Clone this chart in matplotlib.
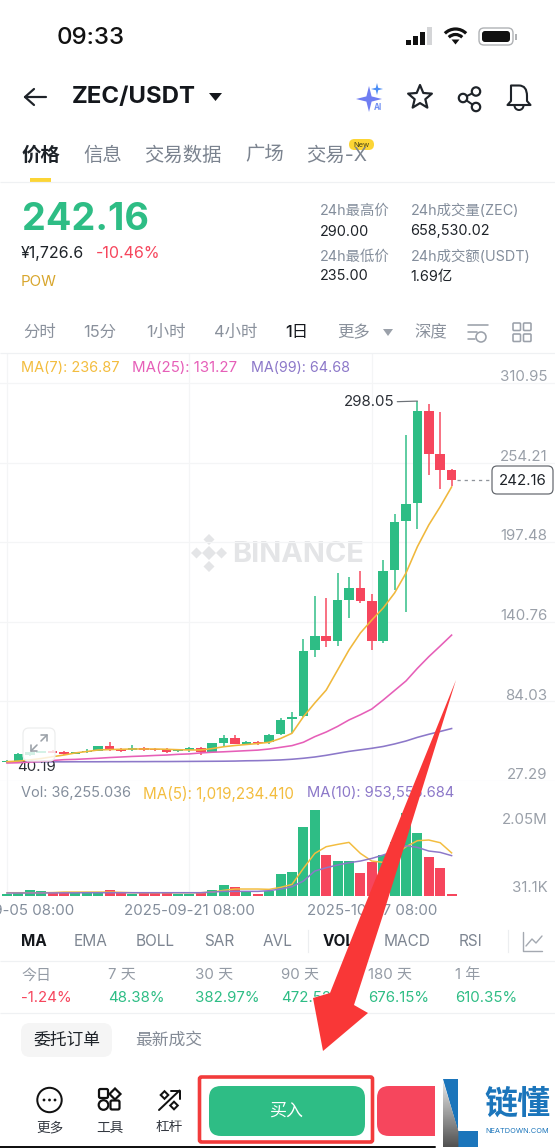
#!/usr/bin/env python3
"""Binance ZEC/USDT daily chart screenshot, redrawn."""
import numpy as np
import matplotlib

matplotlib.use("Agg")
import matplotlib.pyplot as plt
from matplotlib.patches import Arc, Circle, FancyBboxPatch, PathPatch, Polygon, Rectangle
from matplotlib.path import Path
from matplotlib.transforms import blended_transform_factory

plt.rcParams["font.family"] = ["Inter", "Noto Sans CJK SC", "DejaVu Sans"]

W, H = 555, 1148
GREEN = "#2ebd85"
RED = "#f6465d"
GRAY = "#848e9c"
DARK = "#1e2329"
GRID = "#f4f5f6"
YELLOW = "#f3bd3f"
PINK = "#e65fb8"
PURPLE = "#8c78c9"

# daily candles, oldest first
opens = [40.5, 41.3, 45.8, 47.4, 48.7, 47.7, 46.7, 47.8, 48.9, 52.0, 49.9, 49.4, 50.6, 50.3,
         50.1, 48.5, 49.4, 50.6, 48.2, 54.6, 57.9, 53.9, 55.3, 55.3, 60.6, 71.5, 73.6, 120.7,
         130.6, 127.1, 156.5, 164.6, 155.6, 127.1, 177.5, 212.8, 225.6, 291.0, 260.1, 248.95]
highs = [42.0, 47.0, 48.0, 49.0, 49.5, 48.5, 48.3, 49.9, 52.3, 54.9, 51.0, 53.2, 51.5, 50.8,
         50.5, 50.3, 51.5, 51.3, 54.4, 60.3, 60.0, 55.8, 55.8, 60.8, 72.4, 76.5, 128.5, 159.4,
         157.5, 175.8, 172.5, 176.7, 160.6, 185.0, 217.4, 273.9, 298.05, 296.0, 290.0, 249.66]
lows = [40.3, 40.19, 45.4, 47.0, 47.0, 46.0, 46.4, 46.9, 48.5, 48.9, 47.9, 48.9, 49.0, 49.0,
        47.5, 47.9, 48.2, 45.8, 47.7, 51.7, 53.7, 53.6, 52.9, 53.7, 60.0, 61.5, 73.0, 115.9,
        123.0, 123.7, 143.2, 154.4, 120.4, 125.4, 163.4, 147.5, 207.1, 245.4, 235.2, 237.5]
closes = [41.5, 46.5, 47.9, 48.7, 47.2, 46.5, 47.9, 48.9, 52.0, 49.4, 48.9, 50.6, 49.4, 49.4,
          48.2, 49.9, 50.6, 47.9, 54.2, 57.7, 53.9, 55.3, 54.4, 60.0, 71.0, 73.1, 120.0, 130.6,
          127.1, 156.3, 164.6, 155.6, 127.1, 177.0, 212.1, 224.9, 291.0, 260.5, 249.16, 242.16]

ma7 = [41.05, 41.5, 42.3, 43.3, 44.6, 45.8, 47.3, 48.3, 49.4, 49.7, 49.9, 50.1, 50.1, 50.1,
       49.9, 49.6, 49.4, 49.4, 50.4, 51.7, 52.6, 53.3, 54.0, 54.9, 57.6, 61.3, 73.1, 82.9,
       92.1, 106.4, 120.7, 132.8, 142.0, 150.6, 161.3, 175.5, 194.3, 209.8, 222.8, 236.87]
ma25 = [40.1, 40.3, 40.8, 41.3, 41.9, 42.5, 42.7, 43.1, 43.5, 44.0, 44.4, 44.8, 45.1, 45.5,
        45.8, 46.3, 46.6, 47.3, 47.8, 48.1, 48.5, 48.9, 49.3, 50.1, 51.3, 52.5, 54.9, 58.9,
        62.2, 66.2, 70.8, 74.5, 78.6, 85.0, 91.8, 98.6, 107.6, 115.9, 123.5, 131.27]
ma99 = [40.85, 40.9, 40.9, 40.9, 40.95, 40.95, 41.0, 41.0, 41.0, 41.05, 41.05, 41.1, 41.1, 41.15,
        41.15, 41.2, 41.25, 41.3, 41.35, 41.4, 41.5, 41.7, 41.8, 42.0, 42.3, 42.8, 43.5, 44.4,
        45.6, 47.0, 48.4, 49.5, 50.6, 51.9, 53.7, 55.8, 58.4, 60.6, 62.6, 64.68]

volumes = [48, 79, 126, 119, 88, 71, 71, 63, 63, 136, 88, 32, 71, 63, 63, 48, 48, 71, 143, 255,
           198, 79, 40, 112, 516, 564, 1642, 2050, 959, 833, 816, 540, 809, 970, 1278, 1975,
           1492, 912, 650, 36.255]
vol_ma5 = [71, 71, 71, 71, 75, 87, 87, 87, 87, 87, 80, 71, 71, 71, 71, 71, 71, 71, 87, 127,
           159, 159, 159, 151, 198, 269, 650, 1007, 1166, 1221, 1269, 1007, 825, 793, 968, 1166,
           1309, 1325, 1261, 1019.234]
vol_ma10 = [64, 64, 64, 66, 66, 68, 68, 71, 71, 71, 71, 71, 71, 71, 71, 71, 71, 71, 87, 103,
            103, 103, 103, 119, 159, 214, 349, 587, 666, 730, 785, 825, 888, 968, 1063, 1190,
            1150, 1063, 1031, 953.555]

price_ticks = [310.95, 254.21, 197.48, 140.76, 84.03, 27.29]
price_tick_labels = ["310.95", "254.21", "197.48", "140.76", "84.03", "27.29"]
date_ticks = [0, 16, 32]
date_labels = ["2025-09-05 08:00", "2025-09-21 08:00", "2025-10-07 08:00"]
indicators = ["MA", "EMA", "BOLL", "SAR", "AVL", "VOL", "MACD", "RSI"]
period_names = ["今日", "7 天", "30 天", "90 天", "180 天", "1 年"]
period_returns = ["-1.24%", "48.38%", "382.97%", "472.52%", "676.15%", "610.35%"]


def px_axes(fig, top, bottom):
    return fig.add_axes([0, 1 - bottom / H, 1, (bottom - top) / H])


def pt(px):
    return px * 0.72


def main():
    fig = plt.figure(figsize=(W / 100, H / 100), dpi=100, facecolor="white")

    # ---- price panel: y 353..781 px, 0.7127 price units per px
    ax = px_axes(fig, 353, 781)
    ax_v = px_axes(fig, 781, 896)
    ui = fig.add_axes([0, 0, 1, 1], zorder=10)
    ui.set_xlim(0, W)
    ui.set_ylim(H, 0)
    ui.axis("off")
    ui.patch.set_alpha(0)

    xs = np.arange(len(closes))
    xlim = (-7 / 11.4, (W - 7) / 11.4)
    for a in (ax, ax_v):
        a.set_xlim(*xlim)
        a.patch.set_alpha(0)
        for s in a.spines.values():
            s.set_visible(False)
        a.set_xticks(date_ticks)
        a.grid(True, color=GRID, lw=pt(1.2))
        a.set_axisbelow(True)
        a.tick_params(length=0)
    ax.set_ylim(27.29, 332.33)
    ax.set_yticks(price_ticks)
    ax.set_yticklabels([])
    ax.set_xticklabels([])

    tr = blended_transform_factory(ax.transAxes, ax.transData)
    for p, s in zip(price_ticks, price_tick_labels):
        ax.text(547.5 / W, p - 0.9, s, transform=tr, ha="right", va="bottom",
                fontsize=pt(15), color="#9aa0a9")

    # watermark, under the candles
    ax.text(232, 555, "BINANCE", transform=ui.transData, fontsize=pt(29), fontweight="bold",
            color="#e4e5e7", va="center", ha="left", zorder=0.5)
    for cx, cy, r in [(209, 539.5, 5.5), (209, 566.5, 5.5), (196.5, 553, 5.5), (221.5, 553, 5.5), (209, 553, 7)]:
        ax.add_patch(Polygon([(cx - r, cy), (cx, cy - r), (cx + r, cy), (cx, cy + r)],
                             transform=ui.transData, fc="#e4e5e7", ec="none", zorder=0.5))

    colors = [GREEN if c >= o else RED for o, c in zip(opens, closes)]
    ax.vlines(xs, lows, highs, colors=colors, lw=pt(1.5), zorder=2)
    body_lo = np.minimum(opens, closes)
    body_hi = np.maximum(opens, closes)
    ax.bar(xs, body_hi - body_lo, bottom=body_lo, width=0.83, color=colors, zorder=2.1)

    ax.plot(xs, ma99, color=PURPLE, lw=pt(1.6), zorder=3)
    ax.plot(xs, ma25, color=PINK, lw=pt(1.6), zorder=3.1)
    ax.plot(xs, ma7, color="#f0b83c", lw=pt(1.6), zorder=3.2)

    # high marker and last price
    ax.annotate("298.05", xy=(36, 298.05), xytext=(394.5, 402.5), textcoords=ui.transData,
                fontsize=pt(15), color="#2b2f36", ha="right", va="center",
                arrowprops=dict(arrowstyle="-", color="#6d7278", lw=pt(1.2), shrinkA=0, shrinkB=0))
    ax.annotate("40.19", xy=(1, 40.19), xytext=(36.5, 767), textcoords=ui.transData,
                fontsize=pt(15), color="#2b2f36", ha="center", va="center")
    ax.plot([39.45, 42.7], [242.16, 242.16], ls=(0, (2.5, 3)), color="#8f949b", lw=pt(1.3), zorder=3)

    # ---- volume panel, 23.8K per px
    ax_v.set_ylim(-0.3 * 23.8, 114.7 * 23.8)
    ax_v.set_yticks([])
    ax_v.bar(xs, volumes, width=0.88, color=colors, zorder=2)
    ax_v.plot(xs, vol_ma5, color=YELLOW, lw=pt(1.5), zorder=3)
    ax_v.plot(xs, vol_ma10, color=PURPLE, lw=pt(1.5), zorder=3.1)
    ax_v.set_xticklabels(date_labels, fontsize=pt(15), color=GRAY)
    ax_v.tick_params(axis="x", pad=6)

    # ---- screen chrome, in pixel coordinates
    def label(x, y, s, size, color=GRAY, ha="left", weight="normal"):
        return ui.text(x, y + 1.5, s, fontsize=pt(size), color=color, ha=ha, va="center", fontweight=weight)

    def hline(y, x0=0, x1=W, color="#eff1f3", lw=1.2):
        ui.plot([x0, x1], [y, y], color=color, lw=pt(lw), solid_capstyle="butt")

    def rbox(x0, y0, x1, y1, r, fc="none", ec="none", lw=1.0):
        ui.add_patch(FancyBboxPatch((x0, y0), x1 - x0, y1 - y0, boxstyle=f"round,pad=0,rounding_size={r}",
                                    fc=fc, ec=ec, lw=pt(lw)))

    def stroke(pts, color=DARK, lw=2.2):
        p = np.array(pts, dtype=float)
        ui.plot(p[:, 0], p[:, 1], color=color, lw=pt(lw), solid_capstyle="round", solid_joinstyle="round")

    def diamond(cx, cy, r, fc="none", ec="#111", lw=2.0):
        ui.add_patch(Polygon([(cx - r, cy), (cx, cy - r), (cx + r, cy), (cx, cy + r)], fc=fc, ec=ec, lw=pt(lw)))

    # status bar
    label(57, 36, "09:33", 24, "#111111", weight="medium")
    for x, top, c in [(406, 39.5, "#111"), (413, 36, "#111"), (420, 31.5, "#111"), (427, 27, "#d4d5d7")]:
        ui.add_patch(Rectangle((x, top), 5, 44.5 - top, fc=c, ec="none"))
    for r in (15, 9.5):
        ui.add_patch(Arc((455.5, 44), r * 2, r * 2, theta1=225, theta2=315, color="#111", lw=pt(3.2)))
    ui.add_patch(Polygon([(451.5, 39.5), (459.5, 39.5), (455.5, 44.5)], fc="#111", ec="none"))
    rbox(479, 28, 513, 45, 5, fc="white", ec="#b0b2b5", lw=1.4)
    rbox(482, 31, 510, 42, 3, fc="#111")
    ui.add_patch(Rectangle((515, 33.5), 1.5, 6, fc="#b0b2b5", ec="none"))

    # nav bar
    stroke([(46, 97), (25, 97)])
    stroke([(34, 89), (25, 97), (34, 105)])
    label(72, 96, "ZEC/USDT", 24, "#14171c", weight="bold")
    ui.add_patch(Polygon([(209, 93), (222, 93), (215.5, 101)], fc="#14171c", ec="none"))

    def sparkle(cx, cy, r, fc):
        k = r * 0.2
        v = [(cx, cy - r), (cx + k, cy - k), (cx + r, cy), (cx + k, cy + k),
             (cx, cy + r), (cx - k, cy + k), (cx - r, cy), (cx - k, cy - k), (cx, cy - r)]
        ui.add_patch(Polygon(v, fc=fc, ec="none"))

    sparkle(369, 99, 13, "#6f7df2")
    sparkle(377, 89, 6, "#4b8df5")
    label(378, 106, "AI", 8, "#6f8ef2", ha="center", weight="bold")

    ang = np.radians(np.arange(0, 360, 36) - 90)
    rad = np.where(np.arange(10) % 2 == 0, 12.5, 5.6)
    ui.add_patch(Polygon(np.c_[420 + rad * np.cos(ang), 97.5 + rad * np.sin(ang)], fc="none", ec=DARK,
                         lw=pt(2.2), joinstyle="round"))

    stroke([(476, 91.5), (463, 98), (476, 107)], lw=2)
    for cx, cy in [(476, 91.5), (463, 98), (476, 107)]:
        ui.add_patch(Circle((cx, cy), 4.2, fc="white", ec=DARK, lw=pt(2.2), zorder=3))

    bell = Path([(507.5, 105), (511, 101), (511, 96), (511, 85.5), (519, 85.5), (527, 85.5), (527, 96), (527, 101), (530.5, 105), (507.5, 105)],
                [Path.MOVETO, Path.LINETO, Path.CURVE3, Path.CURVE3, Path.LINETO, Path.CURVE3, Path.CURVE3, Path.LINETO, Path.LINETO, Path.CLOSEPOLY])
    ui.add_patch(PathPatch(bell, fc="none", ec=DARK, lw=pt(2.1), joinstyle="round"))
    ui.add_patch(Arc((519, 105.5), 9, 9, theta1=0, theta2=180, color=DARK, lw=pt(2)))

    # tabs
    label(22, 154, "价格", 19.4, "#1e2329", weight="bold")
    for x, s in [(83, "信息"), (144, "交易数据"), (245, "广场"), (306, "交易-X")]:
        label(x, 154, s, 19.4, "#7b838f")
    rbox(349, 139, 374, 150, 5.5, fc="#fcd535")
    label(361.5, 143.5, "New", 7.6, "#4a4215", ha="center")
    ui.add_patch(Rectangle((30, 178), 21, 4, fc="#fcd535", ec="none"))
    hline(182)

    # price block
    label(21.5, 218, "242.16", 37.8, GREEN, weight="bold")
    label(21, 252, "¥1,726.6", 16, "#1e2329")
    label(96, 252, "-10.46%", 16, RED)
    label(21, 280, "POW", 15, "#d8a62d")
    for x, y, s, c in [(320, 209, "24h最高价", GRAY), (320, 230, "290.00", DARK),
                       (410.5, 209, "24h成交量(ZEC)", GRAY), (410.5, 230, "658,530.02", DARK),
                       (320, 255, "24h最低价", GRAY), (320, 275, "235.00", DARK),
                       (410.5, 255, "24h成交额(USDT)", GRAY), (410.5, 275, "1.69亿", DARK)]:
        label(x, y, s, 14.4, c)

    # interval bar
    for x, s in [(23, "分时"), (83, "15分"), (146, "1小时"), (214, "4小时"), (337, "更多"), (414, "深度")]:
        label(x, 331, s, 16.4, "#8a919c")
    label(285, 331, "1日", 16.4, "#14171c", weight="medium")
    ui.add_patch(Polygon([(383, 329), (393, 329), (388, 336)], fc="#9ba1aa", ec="none"))
    for y, x0, x1 in [(325, 468, 488), (332, 468, 477), (339, 468, 475)]:
        stroke([(x0, y), (x1, y)], color="#9ba1aa", lw=1.6)
    ui.add_patch(Circle((481, 337), 5, fc="white", ec="#9ba1aa", lw=pt(1.6)))
    for x, y in [(513, 323), (523.5, 323), (513, 334), (523.5, 334)]:
        rbox(x, y, x + 7.5, y + 7.5, 1, ec="#9ba1aa", lw=1.6)
    hline(353)

    # chart legends
    label(21, 367, "MA(7): 236.87", 14.5, YELLOW)
    label(132, 367, "MA(25): 131.27", 15, PINK)
    label(251, 367, "MA(99): 64.68", 14.3, PURPLE)
    label(21, 792, "Vol: 36,255.036", 14.5, GRAY)
    label(143, 792, "MA(5): 1,019,234.410", 15.2, YELLOW)
    label(307, 792, "MA(10): 953,555.684", 14.7, PURPLE)
    label(547.5, 819, "2.05M", 15, "#9aa0a9", ha="right")
    label(547.5, 886, "31.1K", 15, "#9aa0a9", ha="right")

    # last price tag
    rbox(492, 466, 553, 494, 5, fc="white", ec="#62666c", lw=1.2)
    label(522.5, 479.5, "242.16", 15, "#1e2329", ha="center")

    # expand button, half see-through over the candles
    ui.add_patch(FancyBboxPatch((23, 728), 32, 33, boxstyle="round,pad=0,rounding_size=6",
                                fc=(1, 1, 1, 0.8), ec="#eceded", lw=pt(1.2)))
    stroke([(31, 751), (37, 745)], color="#9ba1a8", lw=1.6)
    stroke([(31, 745), (31, 751), (37, 751)], color="#9ba1a8", lw=1.6)
    stroke([(41, 741), (47, 735)], color="#9ba1a8", lw=1.6)
    stroke([(41, 735), (47, 735), (47, 741)], color="#9ba1a8", lw=1.6)

    # indicator row
    for x, s in zip([21, 74, 136, 204, 263, 323, 384, 459], indicators):
        bold = s in ("MA", "VOL")
        label(x, 940, s, 15.4, "#14171c" if bold else "#7d8591", weight="bold" if bold else "normal")
    for x in (308, 508):
        ui.plot([x, x], [930, 952], color="#eceef0", lw=pt(1.2))
    stroke([(523, 932), (523, 951), (542, 951)], color="#a4a9b1", lw=1.4)
    stroke([(526, 946), (532, 939), (536, 943), (542, 936)], color="#a4a9b1", lw=1.4)
    hline(961)

    # change over periods
    for x, n, v in zip([21, 108, 195, 281, 368, 455], period_names, period_returns):
        label(x, 974, n, 15, "#949ba5")
        label(x, 997, v, 15, RED if v.startswith("-") else GREEN)
    hline(1013)

    rbox(21, 1023, 112, 1057, 9, fc="#f5f5f5")
    label(33, 1038, "委托订单", 16.8, "#1e2329", weight="medium")
    label(135, 1038, "最新成交", 16.8, "#848b96", weight="medium")

    # bottom bar
    ui.add_patch(Circle((49.5, 1100), 12.2, fc="none", ec="#111", lw=pt(2)))
    for x in (44, 49.5, 55):
        ui.add_patch(Circle((x, 1100), 1.4, fc="#111", ec="none"))
    rbox(99, 1089, 108, 1098, 1.5, ec="#111", lw=2.2)
    diamond(115, 1094, 5.5, lw=2.2)
    ui.add_patch(Circle((103.5, 1105), 4.8, fc="none", ec="#111", lw=pt(2.2)))
    rbox(110.5, 1100.5, 119.5, 1109.5, 1.5, ec="#111", lw=2.2)
    stroke([(159, 1110), (179.5, 1090.5)], color="#111", lw=2)
    stroke([(171, 1090.5), (179.5, 1090.5), (179.5, 1099)], color="#111", lw=2)
    diamond(164.5, 1095, 3.8, fc="white")
    diamond(174, 1105.5, 3.8, fc="white")
    for x, s in [(50, "更多"), (109.5, "工具"), (169, "杠杆")]:
        label(x, 1126, s, 13.6, "#333840", ha="center")

    rbox(377, 1086, 450, 1136, 12, fc=RED)
    rbox(209, 1086, 365, 1136, 12, fc=GREEN)
    label(286, 1110, "买入", 17, "#ffffff", ha="center", weight="medium")
    ui.add_patch(FancyBboxPatch((199.5, 1077), 173, 65, boxstyle="round,pad=0,rounding_size=2",
                                fc="none", ec="#f23b3b", lw=pt(3.6)))
    stroke([(0, 1147), (435, 1147)], color="#111", lw=2)

    # site logo in the corner
    ui.add_patch(Rectangle((435, 1070), 120, 78, fc="white", ec="none"))
    ui.add_patch(Polygon([(442.5, 1079), (458.4, 1079), (458.4, 1131)], fc="#1b75bb", ec="none"))
    ui.add_patch(Rectangle((458.4, 1131), 20, 16, fc="#1b75bb", ec="none"))
    tri = Polygon([(442.5, 1079), (458.4, 1131), (458.4, 1147), (442.5, 1147)], fc="none", ec="none")
    ui.add_patch(tri)
    grad = np.linspace(0.92, 0.32, 64).reshape(-1, 1)
    img = ui.imshow(grad, extent=(442.5, 458.4, 1147, 1079), aspect="auto", cmap="gray", vmin=0, vmax=1, zorder=1.5)
    img.set_clip_path(tri)
    ui.set_xlim(0, W)
    ui.set_ylim(H, 0)
    label(484, 1104, "链懂", 33, "#1b75bb", weight="bold")
    label(485, 1129.5, "NEATDOWN.COM", 7.4, "#1b75bb")

    # big arrow drawn over the screenshot
    ui.add_patch(Polygon([(456, 680), (383, 915), (354, 1005), (368, 1013), (323, 1051),
                          (313, 998), (330, 993), (361, 915)], fc="#f93737", ec="none", zorder=6))

    fig.savefig("out.png", dpi=100, facecolor="white")


if __name__ == "__main__":
    main()
